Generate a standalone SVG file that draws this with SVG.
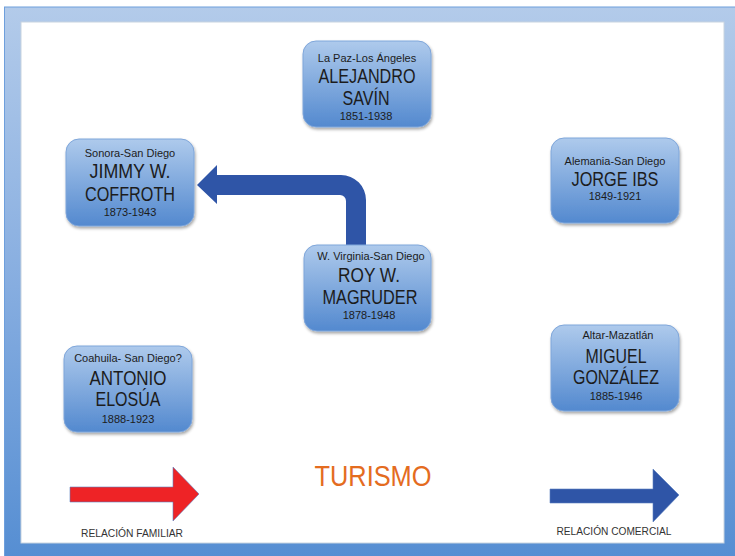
<svg xmlns="http://www.w3.org/2000/svg" width="735" height="556" viewBox="0 0 735 556">
<defs>
<linearGradient id="frameG" x1="0" y1="0" x2="0" y2="1">
<stop offset="0" stop-color="#b3cbea"/>
<stop offset="0.5" stop-color="#86ade0"/>
<stop offset="1" stop-color="#548dd2"/>
</linearGradient>
<linearGradient id="nodeG" x1="0" y1="0" x2="0" y2="1">
<stop offset="0" stop-color="#aecaec"/>
<stop offset="1" stop-color="#5389cf"/>
</linearGradient>
<filter id="sh" x="-10%" y="-10%" width="125%" height="130%">
<feDropShadow dx="1" dy="2" stdDeviation="1.5" flood-color="#000" flood-opacity="0.35"/>
</filter>
</defs>
<style>
.node rect{fill:url(#nodeG);stroke:#7fa6da;stroke-width:1;filter:url(#sh)}
text{font-family:"Liberation Sans",Arial,sans-serif;fill:#1c1c1c;text-anchor:middle}
.lbl{font-size:11px}
.nm{font-size:19.5px}
.yr{font-size:11px}
.leg{font-size:10px;fill:#333}
</style>
<rect x="4.5" y="7" width="740" height="560" fill="url(#frameG)" stroke="#6e9fdc" stroke-width="1"/>
<rect x="21" y="22" width="703" height="521" fill="#ffffff" stroke="#c8d4e0" stroke-width="1"/>

<g id="connectors">
<path d="M346,245 L346,201 A6,6 0 0 0 340,195 L217,195 L217,204 L197,185 L217,165 L217,175 L341,175 A25,25 0 0 1 366,200 L366,245 Z" fill="#2f55a7"/>
</g>

<g id="alejandro" class="node">
<rect x="303" y="41" width="128" height="86" rx="13"/>
<text class="lbl" x="367" y="62">La Paz-Los Ángeles</text>
<text class="nm" x="367" y="83" textLength="97" lengthAdjust="spacingAndGlyphs">ALEJANDRO</text>
<text class="nm" x="366" y="105" textLength="47" lengthAdjust="spacingAndGlyphs">SAVÍN</text>
<text class="yr" x="366" y="120">1851-1938</text>
</g>

<g id="jimmy" class="node">
<rect x="66" y="139" width="128" height="87" rx="13"/>
<text class="lbl" x="130" y="157">Sonora-San Diego</text>
<text class="nm" x="130" y="178" textLength="81" lengthAdjust="spacingAndGlyphs">JIMMY W.</text>
<text class="nm" x="130" y="201" textLength="90" lengthAdjust="spacingAndGlyphs">COFFROTH</text>
<text class="yr" x="130" y="216">1873-1943</text>
</g>

<g id="roy" class="node">
<rect x="304" y="245" width="127" height="86" rx="13"/>
<text class="lbl" x="371" y="260">W. Virginia-San Diego</text>
<text class="nm" x="369" y="282" textLength="62" lengthAdjust="spacingAndGlyphs">ROY W.</text>
<text class="nm" x="370" y="304" textLength="95" lengthAdjust="spacingAndGlyphs">MAGRUDER</text>
<text class="yr" x="369" y="319">1878-1948</text>
</g>

<g id="jorge" class="node">
<rect x="551" y="138" width="128" height="85" rx="13"/>
<text class="lbl" x="615" y="165">Alemania-San Diego</text>
<text class="nm" x="615" y="186" textLength="87" lengthAdjust="spacingAndGlyphs">JORGE IBS</text>
<text class="yr" x="615" y="200">1849-1921</text>
</g>

<g id="antonio" class="node">
<rect x="64" y="346" width="128" height="86" rx="13"/>
<text class="lbl" x="128" y="362">Coahuila- San Diego?</text>
<text class="nm" x="128" y="385" textLength="77" lengthAdjust="spacingAndGlyphs">ANTONIO</text>
<text class="nm" x="128" y="406" textLength="65" lengthAdjust="spacingAndGlyphs">ELOSÚA</text>
<text class="yr" x="128" y="423">1888-1923</text>
</g>

<g id="miguel" class="node">
<rect x="551" y="325" width="128" height="86" rx="13"/>
<text class="lbl" x="618" y="339">Altar-Mazatlán</text>
<text class="nm" x="616" y="363" textLength="61" lengthAdjust="spacingAndGlyphs">MIGUEL</text>
<text class="nm" x="616" y="384" textLength="86" lengthAdjust="spacingAndGlyphs">GONZÁLEZ</text>
<text class="yr" x="616" y="400">1885-1946</text>
</g>

<g id="legend">
<path d="M70,487 L173,487 L173,467 L199,494 L173,521 L173,502 L70,502 Z" fill="#ee2326" stroke="#5a7fc0" stroke-width="0.6"/>
<path d="M550,489 L653,489 L653,469 L679,495 L653,522 L653,503 L550,503 Z" fill="#2f55a7" stroke="#5a7fc0" stroke-width="0.6"/>
<text class="leg" x="132" y="537" textLength="102" lengthAdjust="spacingAndGlyphs">RELACIÓN FAMILIAR</text>
<text class="leg" x="614" y="535" textLength="115" lengthAdjust="spacingAndGlyphs">RELACIÓN COMERCIAL</text>
<text x="373" y="486" style="font-size:29px;fill:#e46c1f" textLength="117" lengthAdjust="spacingAndGlyphs">TURISMO</text>
</g>
</svg>
